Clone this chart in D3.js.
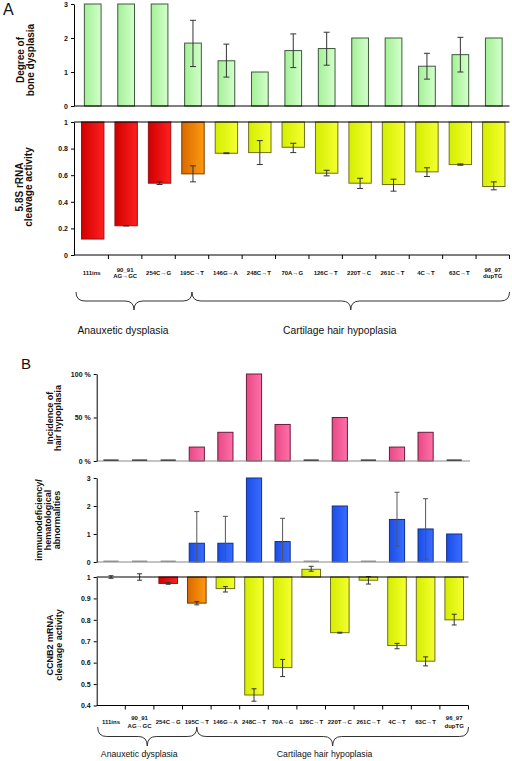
<!DOCTYPE html>
<html><head><meta charset="utf-8">
<script src="https://cdn.jsdelivr.net/npm/d3@7/dist/d3.min.js"></script>
<style>
body{margin:0;background:#fff;}
svg{display:block;font-family:"Liberation Sans",Arial,sans-serif;}
</style></head>
<body><svg id="c" width="512" height="761"></svg>
<script>
// ---------- DATA ----------
const categories = ["111ins","90_91 AG→GC","254C→G","195C→T","146G→A","248C→T","70A→G","126C→T","220T→C","261C→T","4C→T","63C→T","96_97 dupTG"];
const catLines = [["111ins"],["90_91","AG→GC"],["254C→G"],["195C→T"],["146G→A"],["248C→T"],["70A→G"],["126C→T"],["220T→C"],["261C→T"],["4C→T"],["63C→T"],["96_97","dupTG"]];
const severity = ["AD","AD","AD","mid","CHH","CHH","CHH","CHH","CHH","CHH","CHH","CHH","CHH"];
const groups = ["Anauxetic dysplasia","Cartilage hair hypoplasia"];

const boneDysplasia = [3,3,3,1.85,1.33,1.0,1.63,1.69,2.0,2.0,1.17,1.51,2.0];
const boneLo = [null,null,null,1.16,0.85,null,1.13,1.2,null,null,0.79,1.0,null];
const boneHi = [null,null,null,2.52,1.82,null,2.12,2.17,null,null,1.55,2.02,null];

const rrna = [0.12,0.22,0.54,0.61,0.765,0.77,0.81,0.615,0.54,0.53,0.625,0.68,0.515];
const rrnaLo = [null,0.218,0.53,0.55,0.762,0.68,0.77,0.595,0.50,0.48,0.59,0.675,0.49];
const rrnaHi = [null,0.222,0.55,0.67,0.768,0.86,0.84,0.637,0.577,0.57,0.656,0.685,0.55];

const hairIncidence = [0,0,0,0.16,0.33,1.0,0.42,0,0.5,0,0.16,0.33,0];

const immuno = [0,0,0,0.67,0.67,3,0.73,0,2.0,0,1.52,1.18,1.0];
const immunoLo = [null,null,null,0,0,null,0,null,null,null,0.57,0.1,null];
const immunoHi = [null,null,null,1.8,1.63,null,1.56,null,null,null,2.49,2.26,null];

const ccnb2 = [1.0,1.0,0.97,0.878,0.946,0.449,0.577,1.036,0.74,0.985,0.68,0.607,0.80];
const ccnb2Lo = [0.994,0.985,0.966,0.87,0.93,0.42,0.535,1.027,0.738,0.967,0.665,0.585,0.776];
const ccnb2Hi = [1.006,1.015,0.974,0.885,0.955,0.478,0.615,1.05,0.742,1.002,0.69,0.627,0.826];

const ticksBone = [0,1,2,3];
const ticksRrna = [0,0.2,0.4,0.6,0.8,1];
const ticksHair = [0,0.5,1];
const ticksImmuno = [0,1,2,3];
const ticksCcnb2 = [0.4,0.5,0.6,0.7,0.8,0.9,1];

// ---------- SETUP ----------
const svg = d3.select("#c");
const defs = svg.append("defs");
function grad(id, c1, c2){
  const g = defs.append("linearGradient").attr("id",id).attr("x1","0").attr("x2","1").attr("y1","0").attr("y2","0");
  g.append("stop").attr("offset","0").attr("stop-color",c1);
  g.append("stop").attr("offset","1").attr("stop-color",c2);
}
grad("gGreen","#a4f096","#d4ffcc");
grad("gRed","#d00000","#ff2020");
grad("gOrange","#d86a00","#ff9a10");
grad("gYellow","#d4ee00","#f4ff30");
grad("gPink","#e84a86","#ff70a8");
grad("gBlue","#1a4ee8","#3a6cff");
const sevFill = {AD:"url(#gRed)", mid:"url(#gOrange)", CHH:"url(#gYellow)"};
const sevStroke = {AD:"#9a1010", mid:"#7a3a00", CHH:"#707020"};

const fmt = d3.format("");
function yAxis(scale, x, ticks, fmtFn){
  const g = svg.append("g").attr("transform",`translate(${x},0)`);
  g.call(d3.axisLeft(scale).tickValues(ticks).tickSize(3).tickSizeOuter(0).tickPadding(3).tickFormat(fmtFn));
  g.select(".domain").attr("stroke","#000");
  g.selectAll("text").attr("font-size",7).attr("font-weight","bold").attr("fill","#111");
  return g;
}
function hline(x1,x2,y,color){
  svg.append("line").attr("x1",x1).attr("x2",x2).attr("y1",y).attr("y2",y).attr("stroke",color).attr("stroke-width",1);
}
function errBars(x, y, lo, hi, cap, color, dx){
  const idx = d3.range(categories.length).filter(i => lo[i]!==null);
  const g = svg.append("g").attr("stroke",color).attr("stroke-width",1);
  idx.forEach(i => {
    const cx = x(categories[i]) + x.bandwidth()/2 + dx;
    g.append("line").attr("x1",cx).attr("x2",cx).attr("y1",y(lo[i])).attr("y2",y(hi[i]));
    g.append("line").attr("x1",cx-cap).attr("x2",cx+cap).attr("y1",y(lo[i])).attr("y2",y(lo[i]));
    g.append("line").attr("x1",cx-cap).attr("x2",cx+cap).attr("y1",y(hi[i])).attr("y2",y(hi[i]));
  });
}
function yTitle(lines, cx, cy, size, gap){
  const t = svg.append("text").attr("transform",`translate(${cx},${cy}) rotate(-90)`)
    .attr("text-anchor","middle").attr("font-size",size).attr("font-weight","bold").attr("fill","#111");
  const n = lines.length;
  lines.forEach((l,k)=>{
    t.append("tspan").attr("x",0).attr("y",(k-(n-1)/2)*gap + size*0.35).text(l);
  });
}
function xLabels(x, yMid, size, gap){
  const g = svg.append("g").attr("font-size",size).attr("font-weight","bold").attr("fill","#111").attr("text-anchor","middle");
  catLines.forEach((ls,i)=>{
    const cx = x(categories[i]) + x.bandwidth()/2;
    ls.forEach((l,k)=>{
      g.append("text").attr("x",cx).attr("y",yMid + (k-(ls.length-1)/2)*gap + size*0.35).text(l);
    });
  });
}
function brace(x0,x1,yTop,h,r){
  const mid=(x0+x1)/2, ym=yTop+h/2;
  const p = `M${x0},${yTop} Q${x0},${ym} ${x0+r},${ym} L${mid-r},${ym} Q${mid},${ym} ${mid},${yTop+h} Q${mid},${ym} ${mid+r},${ym} L${x1-r},${ym} Q${x1},${ym} ${x1},${yTop}`;
  svg.append("path").attr("d",p).attr("fill","none").attr("stroke","#333").attr("stroke-width",1);
  return mid;
}
function braces(x, yTop, h, fontSize, textY, shift){
  const r0 = x.range()[0], r1 = x.range()[1];
  const c3 = x(categories[3]) + x.bandwidth()/2;
  const m1 = brace(r0+1, c3, yTop, h, 9);
  const m2 = brace(c3, r1, yTop, h, 9);
  svg.append("text").attr("x",m1+shift).attr("y",textY).attr("text-anchor","middle").attr("font-size",fontSize).attr("fill","#111").text(groups[0]);
  svg.append("text").attr("x",m2+shift).attr("y",textY).attr("text-anchor","middle").attr("font-size",fontSize).attr("fill","#111").text(groups[1]);
}
function bandTicks(x, y){
  svg.append("g").selectAll("line").data(d3.range(1,categories.length+1)).join("line")
    .attr("x1",i=>x.range()[0]+i*x.step()).attr("x2",i=>x.range()[0]+i*x.step())
    .attr("y1",y).attr("y2",y+4).attr("stroke","#000");
}

// ---------- PANEL A ----------
const xA = d3.scaleBand().domain(categories).range([75,509.5]);
const yBone = d3.scaleLinear().domain([0,3]).range([106,4]);
const yRrna = d3.scaleLinear().domain([0,1]).range([255,122]);

svg.append("text").attr("x",3).attr("y",15).attr("font-size",16).attr("fill","#111").text("A");

// top: bone dysplasia
const bwA1 = xA.bandwidth()*0.5;
svg.append("g").selectAll("rect").data(categories).join("rect")
  .attr("x",d=>xA(d)+xA.bandwidth()/2-bwA1/2+1).attr("width",bwA1)
  .attr("y",(d,i)=>yBone(boneDysplasia[i])).attr("height",(d,i)=>yBone(0)-yBone(boneDysplasia[i]))
  .attr("fill","url(#gGreen)").attr("stroke","#3c5a3c").attr("stroke-width",1);
errBars(xA, yBone, boneLo, boneHi, 3, "#333", 1);
yAxis(yBone, 74, ticksBone, fmt);
hline(74,509.5,106,"#000");
yTitle(["Degree of","bone dysplasia"], 25, 60, 10, 10);

// bottom: 5.8S rRNA
const bwA2 = xA.bandwidth()*0.67;
svg.append("g").selectAll("rect").data(categories).join("rect")
  .attr("x",d=>xA(d)+xA.bandwidth()/2-bwA2/2+1).attr("width",bwA2)
  .attr("y",yRrna(1)).attr("height",(d,i)=>yRrna(rrna[i])-yRrna(1))
  .attr("fill",(d,i)=>sevFill[severity[i]]).attr("stroke",(d,i)=>sevStroke[severity[i]]).attr("stroke-width",1);
errBars(xA, yRrna, rrnaLo, rrnaHi, 3, "#333", 1);
yAxis(yRrna, 74, ticksRrna, fmt);
hline(74,509.5,122,"#000");
hline(74,509.5,255,"#000");
bandTicks(xA, 255);
yTitle(["5.8S rRNA","cleavage activity"], 24, 187, 10, 9.5);
xLabels(xA, 273, 6, 6.5);
braces(xA, 292, 18, 10.3, 334, -11);

// ---------- PANEL B ----------
svg.append("text").attr("x",21).attr("y",369).attr("font-size",15).attr("fill","#111").text("B");
const xB = d3.scaleBand().domain(categories).range([96.7,468.5]);
const yHair = d3.scaleLinear().domain([0,1]).range([461,374]);
const yImm = d3.scaleLinear().domain([0,3]).range([562,478]);
const yCc = d3.scaleLinear().domain([0.4,1]).range([705.5,577]);

// hair incidence
const bwB1 = xB.bandwidth()*0.53;
svg.append("g").selectAll("rect").data(categories).join("rect")
  .attr("x",d=>xB(d)+xB.bandwidth()/2-bwB1/2).attr("width",bwB1)
  .attr("y",(d,i)=>hairIncidence[i]>0 ? yHair(hairIncidence[i]) : yHair(0)-1.5)
  .attr("height",(d,i)=>hairIncidence[i]>0 ? yHair(0)-yHair(hairIncidence[i]) : 1.5)
  .attr("fill",(d,i)=>hairIncidence[i]>0 ? "url(#gPink)" : "#111")
  .attr("stroke",(d,i)=>hairIncidence[i]>0 ? "#6a1a3a" : "none").attr("stroke-width",1);
hline(96.7,470,461,"#888");
yAxis(yHair, 96.7, ticksHair, d=>Math.round(d*100)+" %");
yTitle(["Incidence of","hair hypoplasia"], 54, 418, 9, 8);

// immunodeficiency
svg.append("g").selectAll("rect").data(categories).join("rect")
  .attr("x",d=>xB(d)+xB.bandwidth()/2-bwB1/2).attr("width",bwB1)
  .attr("y",(d,i)=>immuno[i]>0 ? yImm(immuno[i]) : yImm(0)-1.5)
  .attr("height",(d,i)=>immuno[i]>0 ? yImm(0)-yImm(immuno[i]) : 1.5)
  .attr("fill",(d,i)=>immuno[i]>0 ? "url(#gBlue)" : "#999")
  .attr("stroke",(d,i)=>immuno[i]>0 ? "#10308a" : "none").attr("stroke-width",1);
errBars(xB, yImm, immunoLo, immunoHi, 2.5, "#555", 0);
hline(96.7,468.5,562,"#888");
yAxis(yImm, 96.7, ticksImmuno, fmt);
yTitle(["immunodeficiency/","hematological","abnormalities"], 48, 520, 9, 8.8);

// CCNB2
const bwB2 = xB.bandwidth()*0.65;
svg.append("g").selectAll("rect").data(categories).join("rect")
  .attr("x",d=>xB(d)+xB.bandwidth()/2-bwB2/2).attr("width",bwB2)
  .attr("y",(d,i)=>Math.min(yCc(1),yCc(ccnb2[i])))
  .attr("height",(d,i)=>Math.abs(yCc(ccnb2[i])-yCc(1)))
  .attr("fill",(d,i)=>sevFill[severity[i]]).attr("stroke",(d,i)=>sevStroke[severity[i]]).attr("stroke-width",1);
errBars(xB, yCc, ccnb2Lo, ccnb2Hi, 2.5, "#333", 0);
hline(96.7,468.5,577,"#000");
yAxis(yCc, 96.7, ticksCcnb2, fmt);
hline(96.7,468.5,705.5,"#000");
bandTicks(xB, 705.5);
yTitle(["CCNB2 mRNA","cleavage activity"], 54.5, 645, 9, 8.5);
xLabels(xB, 722, 6, 8.5);
braces(xB, 727, 19, 8.7, 757, -8);
</script></body></html>
